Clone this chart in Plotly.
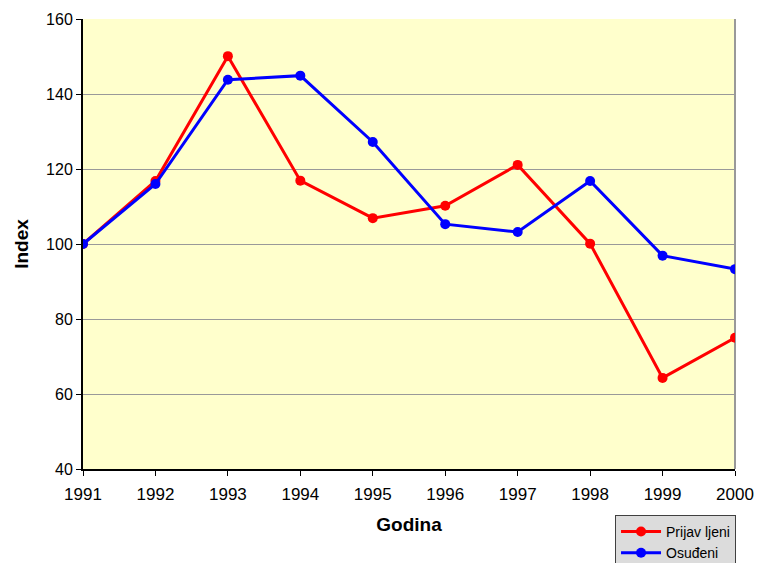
import plotly.graph_objects as go

# Index values (1991 = 100)
years = [1991, 1992, 1993, 1994, 1995, 1996, 1997, 1998, 1999, 2000]
prijavljeni = [100, 116.8, 150.1, 116.9, 106.9, 110.2, 121.1, 100.1, 64.3, 75.0]
osudjeni = [100, 116.0, 143.8, 144.9, 127.2, 105.3, 103.2, 116.8, 96.9, 93.3]

fig = go.Figure()

fig.add_trace(go.Scatter(
    x=years, y=prijavljeni, name="Prijav ljeni",
    mode="lines+markers",
    line=dict(color="#ff0000", width=3),
    marker=dict(color="#ff0000", size=10),
))
fig.add_trace(go.Scatter(
    x=years, y=osudjeni, name="Osuđeni",
    mode="lines+markers",
    line=dict(color="#0000ff", width=3),
    marker=dict(color="#0000ff", size=10),
))

fig.update_layout(
    width=759,
    height=563,
    margin=dict(l=83, r=24, t=19, b=94, autoexpand=False),
    plot_bgcolor="#ffffcc",
    paper_bgcolor="white",
    font=dict(family="Liberation Sans, Arial, sans-serif", size=16, color="black"),
    showlegend=True,
    legend=dict(
        x=0.816, y=-0.102, xanchor="left", yanchor="top",
        bgcolor="#dcdcdc", bordercolor="#404040", borderwidth=1,
        font=dict(size=14),
        itemwidth=40,
    ),
    xaxis=dict(
        range=[1991, 2000],
        tickmode="array", tickvals=years,
        ticks="outside", ticklen=5, tickcolor="black",
        tickfont=dict(size=17), ticklabelstandoff=4,
        showline=True, linecolor="black", linewidth=2,
        showgrid=False, zeroline=False,
        title=dict(text="<b>Godina</b>", font=dict(size=19), standoff=14),
    ),
    yaxis=dict(
        range=[40, 160],
        tickmode="linear", dtick=20,
        ticks="outside", ticklen=5, tickcolor="black",
        tickfont=dict(size=16),
        showline=True, linecolor="black", linewidth=2,
        showgrid=True, gridcolor="#999999", gridwidth=1,
        zeroline=False,
        title=dict(text="<b>Index</b>", font=dict(size=19), standoff=12),
    ),
)

# grey frame on the right of the plot area
fig.add_shape(type="line", xref="paper", yref="paper", x0=1, x1=1, y0=0, y1=1,
              line=dict(color="#999999", width=2), layer="below")

# drop the default page margin so the figure fills the window exactly
fig.write_html("out.html",
               config={"displayModeBar": False},
               post_script="document.body.style.margin='0';document.body.style.overflow='hidden';")
